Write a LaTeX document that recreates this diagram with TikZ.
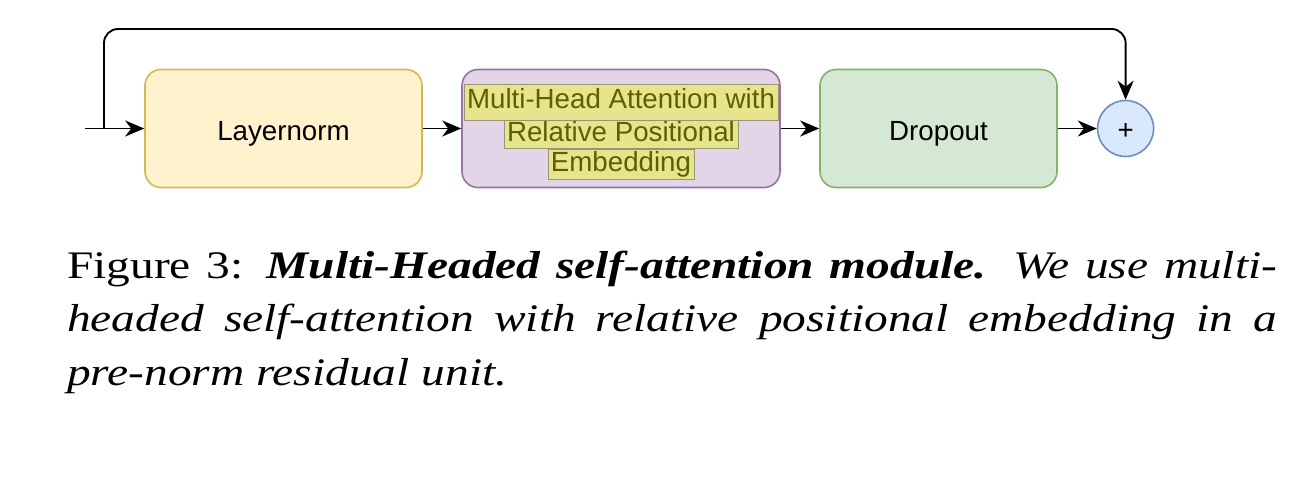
\documentclass[tikz,border=0pt]{standalone}
\usepackage{fontspec}
\setmainfont{Liberation Serif}[FakeStretch=1.215]
\newfontfamily\boxfont{Liberation Sans}
\usetikzlibrary{arrows.meta,positioning}
\definecolor{lnfill}{RGB}{255,242,204}
\definecolor{lndraw}{RGB}{214,182,86}
\definecolor{mhafill}{RGB}{225,213,231}
\definecolor{mhadraw}{RGB}{150,115,166}
\definecolor{dropfill}{RGB}{213,232,212}
\definecolor{dropdraw}{RGB}{130,179,102}
\definecolor{addfill}{RGB}{218,232,252}
\definecolor{adddraw}{RGB}{108,142,191}
\definecolor{hlfill}{RGB}{230,228,140}
\definecolor{hldraw}{RGB}{150,150,115}
\definecolor{hltext}{RGB}{95,95,0}

\begin{document}
\begin{tikzpicture}[
    x=1pt, y=-1pt,
    node distance=38.4pt,
    box/.style={rectangle, draw, line width=1.6pt, rounded corners=16pt, minimum height=118pt, text height=23pt, text depth=0pt, font=\boxfont\fontsize{27.7}{31}\selectfont, align=center},
    hl/.style={rectangle, fill=hlfill, draw=hldraw, line width=0.8pt, inner xsep=3pt, inner ysep=0pt, text=hltext, text height=20pt, text depth=6pt, font=\boxfont\fontsize{27.7}{31}\selectfont},
    arrow/.style={-{Stealth[length=19pt, width=16pt, inset=6pt]}, line width=1.9pt}
]
    \useasboundingbox (0,0) rectangle (1315,487);

    % Nodes
    \node[box, fill=lnfill, draw=lndraw, minimum width=277pt] (norm) at (283.5,128.5) {Layernorm};
    \node[box, fill=mhafill, draw=mhadraw, minimum width=318pt, right=of norm] (mha) {};
    \node[box, fill=dropfill, draw=dropdraw, minimum width=237pt, right=of mha] (drop) {Dropout};
    \node[circle, draw=adddraw, fill=addfill, line width=1.6pt, minimum size=56pt, inner sep=0pt, text height=21pt, text depth=0pt, font=\boxfont\fontsize{27.7}{31}\selectfont, right=39pt of drop] (add) {+};

    % Highlighted label lines
    \node[hl, minimum height=36pt] (mha1) at ([yshift=26.5pt]mha.center) {Multi-Head Attention with};
    \node[hl, minimum height=28pt, below=0pt of mha1] (mha2) {Relative Positional};
    \node[hl, minimum height=30pt, below=0pt of mha2] (mha3) {Embedding};

    % Arrows
    \coordinate (in) at (85,128.5);
    \coordinate (split) at (104,128.5);
    \draw[arrow] (in) -- (norm);
    \draw[arrow] (norm) -- (mha);
    \draw[arrow] (mha) -- (drop);
    \draw[arrow] (drop) -- (add);
    \draw[arrow, rounded corners=14pt] (split) -- ++(0,-99.5) -| (add.north);

    % Caption
    \node[anchor=base west, inner sep=0pt, text width=1210pt, align=justify, font=\fontsize{39}{53.5}\selectfont] (cap) at (67,278) {Figure 3: \textbf{\textit{Multi-Headed self-attention module.}} \textit{We use multi-\linebreak headed self-attention with relative positional embedding in a\linebreak pre-norm residual unit.}};

\end{tikzpicture}
\end{document}
